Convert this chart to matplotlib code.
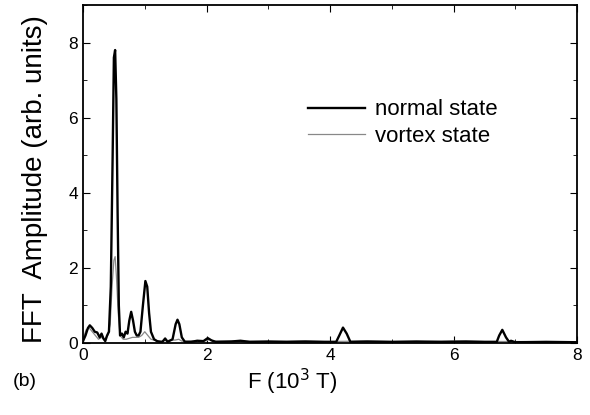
import matplotlib

matplotlib.use("Agg")
import matplotlib.pyplot as plt  # noqa: E402
from matplotlib.ticker import MultipleLocator  # noqa: E402

plt.rcParams["font.family"] = ["Liberation Sans", "DejaVu Sans"]

# frequency (10^3 T) and FFT amplitude
f_normal = [0.00, 0.04, 0.08, 0.11, 0.15, 0.19, 0.23, 0.27, 0.30, 0.33, 0.36, 0.39,
            0.42, 0.45, 0.48, 0.50, 0.52, 0.54, 0.56, 0.58, 0.60, 0.63, 0.66, 0.69,
            0.72, 0.75, 0.78, 0.81, 0.84, 0.87, 0.90, 0.93, 0.97, 1.01, 1.04, 1.07,
            1.10, 1.15, 1.20, 1.28, 1.33, 1.37, 1.45, 1.50, 1.53, 1.56, 1.60, 1.65,
            1.75, 1.85, 1.95, 2.02, 2.08, 2.15, 2.40, 2.55, 2.70, 3.00, 3.30, 3.60,
            3.90, 4.10, 4.15, 4.21, 4.27, 4.33, 4.60, 5.00, 5.40, 5.80, 6.20, 6.50,
            6.70, 6.74, 6.79, 6.85, 6.90, 6.93, 7.00, 7.50, 8.00]
a_normal = [0.05, 0.20, 0.40, 0.47, 0.40, 0.30, 0.28, 0.15, 0.25, 0.12, 0.05, 0.20,
            0.30, 1.50, 5.00, 7.60, 7.80, 6.50, 3.50, 1.00, 0.20, 0.25, 0.15, 0.30,
            0.25, 0.60, 0.83, 0.60, 0.30, 0.20, 0.20, 0.30, 1.00, 1.65, 1.50, 0.80,
            0.30, 0.10, 0.05, 0.02, 0.12, 0.03, 0.10, 0.50, 0.62, 0.50, 0.15, 0.03,
            0.03, 0.06, 0.05, 0.13, 0.07, 0.03, 0.04, 0.06, 0.03, 0.04, 0.03, 0.04,
            0.03, 0.03, 0.20, 0.41, 0.25, 0.03, 0.04, 0.03, 0.04, 0.03, 0.04, 0.03,
            0.03, 0.20, 0.35, 0.15, 0.03, 0.06, 0.02, 0.03, 0.02]

f_vortex = [0.00, 0.05, 0.10, 0.15, 0.20, 0.25, 0.30, 0.35, 0.40, 0.44, 0.47, 0.50,
            0.52, 0.54, 0.57, 0.60, 0.65, 0.70, 0.80, 0.90, 0.95, 1.00, 1.05, 1.10,
            1.20, 1.50, 1.55, 1.60, 2.00, 2.05, 2.10, 2.50, 3.00, 3.50, 4.00, 4.50,
            5.00, 5.50, 6.00, 6.50, 7.00, 7.50, 8.00]
a_vortex = [0.10, 0.35, 0.40, 0.30, 0.20, 0.10, 0.15, 0.10, 0.20, 0.50, 1.50, 2.20,
            2.30, 1.80, 0.80, 0.20, 0.10, 0.10, 0.15, 0.15, 0.20, 0.30, 0.20, 0.10,
            0.05, 0.08, 0.10, 0.05, 0.06, 0.10, 0.05, 0.05, 0.04, 0.05, 0.04, 0.05,
            0.04, 0.04, 0.05, 0.04, 0.04, 0.03, 0.03]

fig = plt.figure(figsize=(5.9, 4.15), dpi=100)
ax = fig.add_axes([0.1407, 0.1735, 0.8373, 0.8145])

ax.plot(f_vortex, a_vortex, color="#888888", linewidth=0.9, label="vortex state")
ax.plot(f_normal, a_normal, color="black", linewidth=1.7, label="normal state")

ax.set_xlim(0, 8)
ax.set_ylim(0, 9)
ax.xaxis.set_major_locator(MultipleLocator(2))
ax.xaxis.set_minor_locator(MultipleLocator(1))
ax.yaxis.set_major_locator(MultipleLocator(2))
ax.yaxis.set_minor_locator(MultipleLocator(1))
ax.tick_params(which="both", direction="in", top=True, right=True, labelsize=12.5)
ax.tick_params(which="major", length=5)
ax.tick_params(which="minor", length=3)
for s in ax.spines.values():
    s.set_linewidth(1.3)

handles, labels = ax.get_legend_handles_labels()
ax.legend(handles[::-1], labels[::-1], frameon=False, fontsize=16,
          loc="upper left", bbox_to_anchor=(0.414, 0.78),
          handlelength=2.6, handletextpad=0.45, labelspacing=0.25)

fig.text(0.495, 0.08, "F (10$^3$ T)", fontsize=16, ha="center", va="center")
fig.text(0.06, 0.569, "FFT  Amplitude (arb. units)", fontsize=20,
         rotation=90, ha="center", va="center")
fig.text(0.042, 0.08, "(b)", fontsize=14, ha="center", va="center")

fig.savefig("out.png", dpi=100)
